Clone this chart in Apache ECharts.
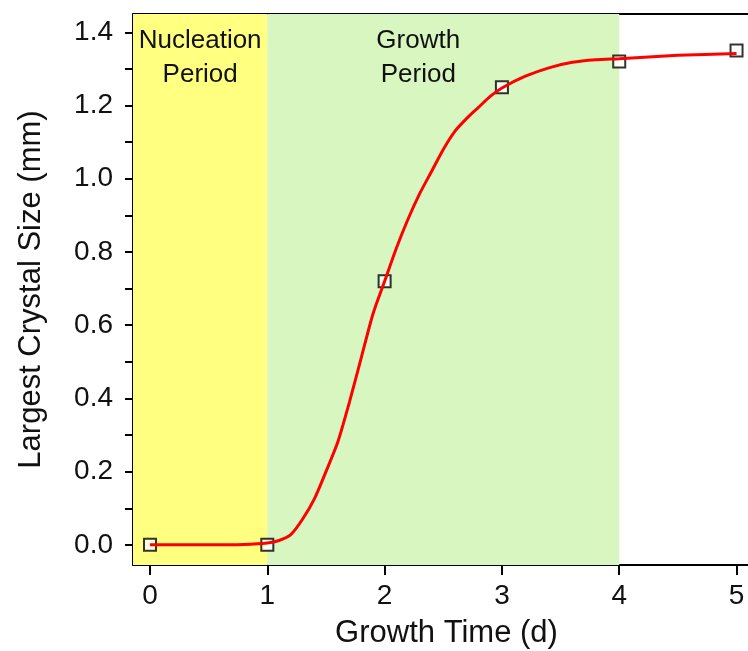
<!DOCTYPE html>
<html>
<head>
<meta charset="utf-8">
<script src="https://cdn.jsdelivr.net/npm/echarts@6/dist/echarts.min.js"></script>
<style>
  html, body { margin: 0; padding: 0; background: #fff; }
  #main { width: 748px; height: 651px; }
</style>
</head>
<body>
<div id="main"></div>
<script>
// measured points (growth time in days, largest crystal size in mm)
var measDays = [0, 1, 2, 3, 4, 5];
var measSize = [0.0, 0.0, 0.72, 1.25, 1.32, 1.35];

// red fitted curve
var fitDays = [0, 0.5, 0.8, 1.0, 1.1, 1.2, 1.3, 1.4, 1.5, 1.6, 1.7, 1.8, 1.9, 2.0, 2.1, 2.2, 2.3, 2.4, 2.5, 2.6, 2.7, 2.8, 2.9, 3.0, 3.2, 3.4, 3.6, 3.8, 4.0, 4.5, 5.0];
var fitSize = [0.0, 0.0, 0.001, 0.005, 0.012, 0.028, 0.07, 0.125, 0.2, 0.28, 0.39, 0.51, 0.63, 0.72, 0.81, 0.89, 0.96, 1.02, 1.08, 1.13, 1.165, 1.195, 1.225, 1.248, 1.28, 1.303, 1.318, 1.325, 1.328, 1.337, 1.342];

// tick labels
var xTicks = [0, 1, 2, 3, 4, 5];
var yTicks = [0, 0.2, 0.4, 0.6, 0.8, 1.0, 1.2, 1.4];
var yAllTicks = [0, 0.1, 0.2, 0.3, 0.4, 0.5, 0.6, 0.7, 0.8, 0.9, 1.0, 1.1, 1.2, 1.3, 1.4];

// shaded periods
var periodNames = ['Nucleation\nPeriod', 'Growth\nPeriod'];
var periodStart = [-0.145, 1];
var periodEnd = [1, 4];

var xMin = -0.145, xMax = 5.2;
var yMin = -0.055, yMax = 1.45;

var font = 'Liberation Sans, Arial, sans-serif';
var myChart = echarts.init(document.getElementById('main'));

var option = {
    animation: false,
    grid: {
        left: 133,
        top: 14,
        width: 627,
        bottom: 86,
        outerBoundsMode: 'none'
    },
    xAxis: [
        {
            type: 'value',
            min: xMin,
            max: xMax,
            name: 'Growth Time (d)',
            nameLocation: 'middle',
            nameGap: 53,
            nameTextStyle: { fontFamily: font, fontSize: 31, color: '#111' },
            axisLine: { show: true, onZero: false, lineStyle: { color: '#000', width: 2 } },
            axisTick: { show: true, length: 10, lineStyle: { color: '#000', width: 2 }, customValues: xTicks },
            axisLabel: { fontFamily: font, fontSize: 28, color: '#111', margin: 17, customValues: xTicks },
            splitLine: { show: false }
        },
        {
            type: 'value',
            position: 'top',
            min: xMin,
            max: xMax,
            axisLine: { show: true, onZero: false, lineStyle: { color: '#000', width: 2 } },
            axisTick: { show: false },
            axisLabel: { show: false },
            splitLine: { show: false }
        }
    ],
    yAxis: [
        {
            type: 'value',
            min: yMin,
            max: yMax,
            name: 'Largest Crystal Size (mm)',
            nameLocation: 'middle',
            nameGap: 86,
            nameTextStyle: { fontFamily: font, fontSize: 31, color: '#111' },
            axisLine: { show: true, onZero: false, lineStyle: { color: '#000', width: 2 } },
            axisTick: { show: true, length: 8, lineStyle: { color: '#000', width: 2 }, customValues: yAllTicks },
            axisLabel: {
                fontFamily: font, fontSize: 28, color: '#111', margin: 20,
                customValues: yTicks,
                formatter: function (v) { return v.toFixed(1); }
            },
            splitLine: { show: false }
        }
    ],
    series: [
        {
            name: 'measured',
            type: 'scatter',
            z: 3,
            symbol: 'rect',
            symbolSize: 12,
            itemStyle: { color: '#fff', borderColor: '#000', borderWidth: 2 },
            data: measDays.map(function (d, i) { return [d, measSize[i]]; }),
            markArea: {
                silent: true,
                data: [
                    [
                        {
                            xAxis: periodStart[0],
                            itemStyle: { color: '#ffff80' },
                            label: {
                                show: true, position: 'insideTop', distance: 10,
                                formatter: periodNames[0],
                                fontFamily: font, fontSize: 26, lineHeight: 34, color: '#111', align: 'center'
                            }
                        },
                        { xAxis: periodEnd[0] }
                    ],
                    [
                        {
                            xAxis: periodStart[1],
                            itemStyle: { color: '#d8f6bf' },
                            label: {
                                show: true, position: 'insideTop', distance: 10, offset: [-25, 0],
                                formatter: periodNames[1],
                                fontFamily: font, fontSize: 26, lineHeight: 34, color: '#111', align: 'center'
                            }
                        },
                        { xAxis: periodEnd[1] }
                    ]
                ]
            }
        },
        {
            name: 'fit',
            type: 'line',
            z: 4,
            showSymbol: false,
            smooth: 0.25,
            lineStyle: { color: '#ff0000', width: 3 },
            data: fitDays.map(function (d, i) { return [d, fitSize[i]]; })
        }
    ]
};

myChart.setOption(option);
</script>
</body>
</html>
